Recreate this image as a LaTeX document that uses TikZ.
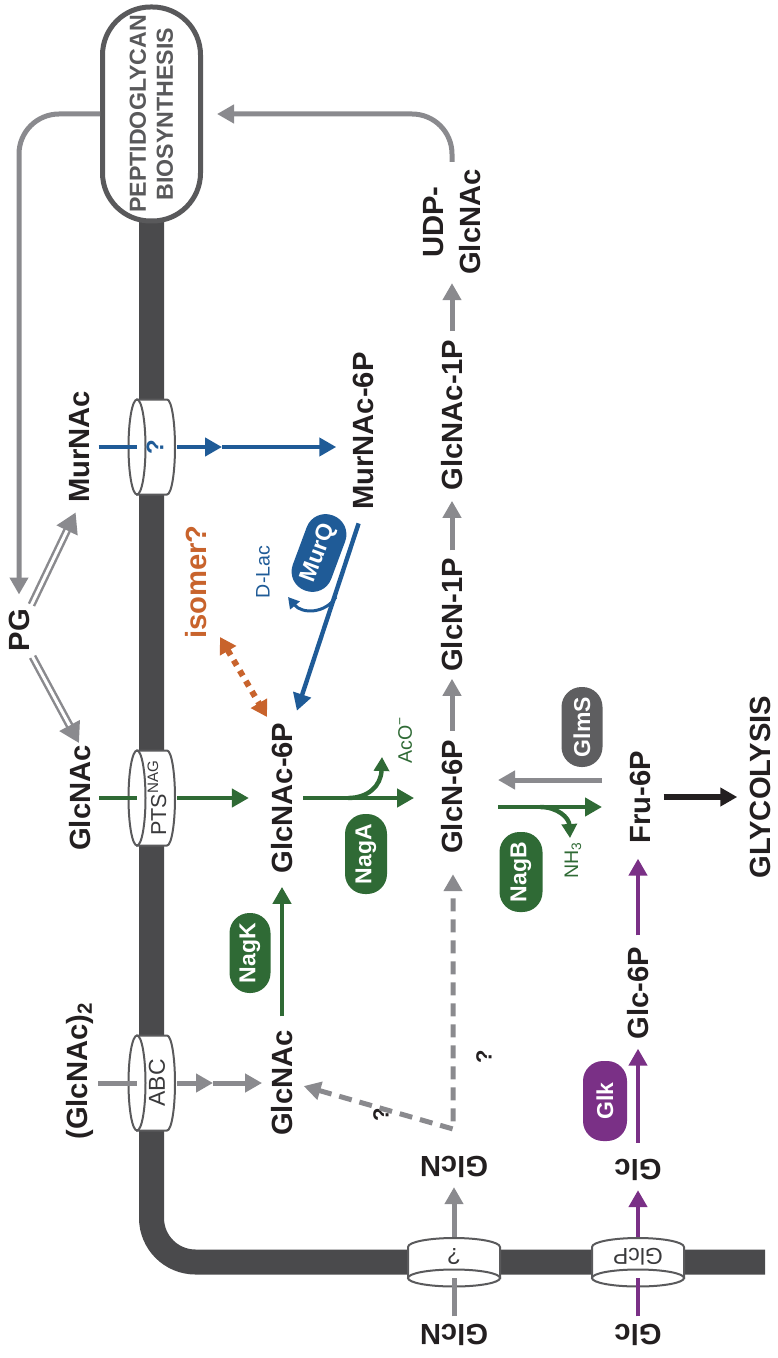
\documentclass[tikz,border=0pt]{standalone}
\usepackage{fontspec}
\setmainfont{Liberation Sans}
\usetikzlibrary{arrows.meta}
\definecolor{memb}{HTML}{4A4A4C}
\definecolor{pgray}{HTML}{59595B}
\definecolor{lgray}{HTML}{8A8A8E}
\definecolor{cylgray}{HTML}{5A5A5C}
\definecolor{tptext}{HTML}{3A3A3C}
\definecolor{mblue}{HTML}{1F5B97}
\definecolor{mgreen}{HTML}{2F6A35}
\definecolor{mpurple}{HTML}{7A3086}
\definecolor{morange}{HTML}{C8632C}
\definecolor{txt}{HTML}{231F20}
\definecolor{glmsc}{HTML}{5E5E60}
\newcommand\metfont{\fontsize{14.6}{18.5}\selectfont\bfseries}
\newcommand\enzfont{\fontsize{11.5}{13}\selectfont\bfseries}
\newcommand\smlfont{\fontsize{9.8}{11}\selectfont}
\newcommand\tpfont{\fontsize{11}{13}\selectfont}
\begin{document}
\begin{tikzpicture}[x=0.5pt,y=-0.5pt,line cap=butt,
  met/.style={text=txt,font=\metfont,inner sep=0pt},
  metv/.style={met,rotate=90},
  metu/.style={met,rotate=180},
  enzbox/.style={rounded corners=10pt,text=white,font=\enzfont,minimum width=40pt,minimum height=20.5pt,inner sep=0pt,rotate=90},
  tip/.style={-{Triangle[length=8.5pt,width=9pt]}},
  grayarrow/.style={lgray,line width=2.5pt,tip},
  bluearrow/.style={mblue,line width=2.2pt,tip},
  greenarrow/.style={mgreen,line width=2.4pt,tip},
  purplearrow/.style={mpurple,line width=2.4pt,tip},
  cylline/.style={draw=cylgray,line width=1pt,fill=white},
  hcyl/.pic={
    \path[cylline] (-15,-47.5) -- (15,-47.5) arc[start angle=-90,end angle=90,x radius=8,y radius=47.5] -- (-15,47.5) -- cycle;
    \path[cylline] (-15,0) ellipse[x radius=8.5,y radius=47.5];
  },
  vcyl/.pic={
    \path[cylline] (-46,16) -- (-46,-15) arc[start angle=180,end angle=360,x radius=46,y radius=9] -- (46,16) -- cycle;
    \path[cylline] (0,16) ellipse[x radius=46,y radius=8.5];
  },
  dblarrow/.style={lgray,line width=4pt,-{Triangle[length=10pt,width=11pt]}},
  dblinner/.style={white,line width=1.5pt}
]
\useasboundingbox (0,0) rectangle (777,1358);

% membrane
\coordinate (membtop) at (151.5,222);
\coordinate (membend) at (765,1262);
\draw[memb,line width=12.5pt,rounded corners=22pt] (membtop) |- (membend);

% peptidoglycan box
\node[draw=pgray,line width=2.5pt,fill=white,rounded corners=24pt,minimum width=107pt,minimum height=49pt,inner sep=0pt,rotate=90,align=center,text=pgray,font=\fontsize{11.6}{13.5}\selectfont\bfseries] (pgb) at (151.5,114) {PEPTIDOGLYCAN\\BIOSYNTHESIS};

% transporters
\coordinate (tq) at (152,447);
\coordinate (tpts) at (152,798);
\coordinate (tabc) at (152,1083);
\coordinate (tglcn) at (454,1262);
\coordinate (tglcp) at (638,1262);
\pic at (tq) {hcyl};
\pic at (tpts) {hcyl};
\pic at (tabc) {hcyl};
\pic at (tglcn) {vcyl};
\pic at (tglcp) {vcyl};
\node[rotate=90,text=mblue,font=\fontsize{12}{13}\selectfont\bfseries,inner sep=0pt] (tqlab) at (155,447) {?};
\node[rotate=90,text=tptext,font=\fontsize{10.8}{12}\selectfont,inner sep=0pt] (ptslab) at (157,798) {PTS\textsuperscript{NAG}};
\node[rotate=90,text=tptext,font=\fontsize{11.5}{13}\selectfont,inner sep=0pt] (abclab) at (157,1083) {ABC};
\node[rotate=180,text=tptext,font=\fontsize{11.5}{13}\selectfont,inner sep=0pt] (glcnqlab) at (454,1257) {?};
\node[rotate=180,text=tptext,font=\fontsize{11.5}{13}\selectfont,inner sep=0pt] (glcplab) at (638,1257) {GlcP};

% metabolites
\node[metv] (pg) at (19,630) {PG};
\node[metv] (murnac) at (80,447) {MurNAc};
\node[metv] (glcnacout) at (80,798) {GlcNAc};
\node[metv] (glcnac2) at (80,1071) {(GlcNAc)\textsubscript{2}};
\node[metv] (murnac6p) at (363,431) {MurNAc-6P};
\node[metv] (glcnac6p) at (282,798) {GlcNAc-6P};
\node[metv] (glcnacin) at (282,1083) {GlcNAc};
\node[metv] (glcn6p) at (452,797) {GlcN-6P};
\node[metv] (glcn1p) at (452,615) {GlcN-1P};
\node[metv] (glcnac1p) at (452,415) {GlcNAc-1P};
\node[metv,align=center] (udp) at (452,222) {UDP-\\GlcNAc};
\node[metv] (fru6p) at (640,797) {Fru-6P};
\node[metv] (glc6p) at (638,993) {Glc-6P};
\node[metv] (glyc) at (760,787) {GLYCOLYSIS};
\node[metu] (glcnin) at (454,1167) {GlcN};
\node[metu] (glcnout) at (454,1335) {GlcN};
\node[metu] (glcin) at (638,1170) {Glc};
\node[metu] (glcout) at (638,1335) {Glc};
\node[metv,text=morange] (isomer) at (196,582) {isomer?};
\node[rotate=90,text=mblue,font=\smlfont,inner sep=0pt] (dlac) at (263,572) {D-Lac};
\node[rotate=90,text=mgreen,font=\smlfont,inner sep=0pt] (aco) at (405,740) {AcO\textsuperscript{−}};
\node[rotate=90,text=mgreen,font=\smlfont,inner sep=0pt] (nh3) at (573,860) {NH\textsubscript{3}};
\node[rotate=90,text=txt,font=\fontsize{11}{13}\selectfont\bfseries,inner sep=0pt] (qa) at (484,1057) {?};
\node[rotate=90,text=txt,font=\fontsize{11}{13}\selectfont\bfseries,inner sep=0pt] (qb) at (381,1115) {?};

% enzymes
\node[enzbox,fill=mgreen] (nagk) at (250,953) {NagK};
\node[enzbox,fill=mgreen,minimum height=21pt] (naga) at (366,854) {NagA};
\node[enzbox,fill=mgreen,minimum height=21.5pt] (nagb) at (521,872) {NagB};
\node[enzbox,fill=glmsc] (glms) at (582,727) {GlmS};
\node[enzbox,fill=mpurple,minimum height=22pt] (glk) at (605,1101) {Glk};
\node[enzbox,fill=mblue,rotate=-20.4] (murq) at (319,553) {MurQ};

% peptidoglycan loop
\draw[grayarrow,rounded corners=20pt,shorten <=3.5pt,shorten >=7pt] (udp.east) |- (pgb.south);
\draw[grayarrow,rounded corners=20pt,shorten >=7pt] (pgb.north) -| (pg.east);

% PG double arrows
\draw[dblarrow,shorten <=2pt,shorten >=5pt] (pg.south east) -- (murnac.west);
\draw[dblinner,shorten <=1pt,shorten >=15pt] (pg.south east) -- (murnac.west);
\draw[dblarrow,shorten <=3pt,shorten >=1pt] (pg.south west) -- (glcnacout.east);
\draw[dblinner,shorten <=2pt,shorten >=11pt] (pg.south west) -- (glcnacout.east);

% transport: MurNAc
\coordinate (tqL) at (137,447);
\coordinate (tqR) at (177,447);
\coordinate (tqM) at (222,447);
\draw[mblue,line width=2.2pt,shorten <=4pt] (murnac.south) -- (tqL);
\draw[bluearrow] (tqR) -- (tqM);
\draw[bluearrow,shorten >=8pt] (tqM) -- (tqM -| murnac6p.north);

% transport: PTS
\coordinate (tptsL) at (137,798);
\coordinate (tptsR) at (177,798);
\draw[mgreen,line width=2.4pt,shorten <=4pt] (glcnacout.south) -- (tptsL);
\draw[greenarrow,shorten >=11pt] (tptsR) -- (tptsR -| glcnac6p.north);

% transport: ABC
\coordinate (abcstart) at (98,1083);
\coordinate (tabcL) at (137,1083);
\coordinate (tabcR) at (177,1083);
\coordinate (tabcM) at (213,1083);
\draw[lgray,line width=2.5pt] (abcstart) -- (tabcL);
\draw[grayarrow] (tabcR) -- (tabcM);
\draw[grayarrow,shorten >=4.4pt] (tabcM) -- (tabcM -| glcnacin.north);

% MurQ
\draw[bluearrow,shorten <=7pt,shorten >=6pt] (murnac6p.west) -- (glcnac6p.south east);
\coordinate (murqpt) at (336,597);
\coordinate (dlactip) at (288,597);
\draw[mblue,line width=1.5pt,-{Triangle[length=5.5pt,width=6pt]}] (murqpt) .. controls (325,614) and (302,614) .. (dlactip);

% isomer
\coordinate (isoA) at (220,637);
\coordinate (isoB) at (267,717);
\draw[morange,line width=3pt,dash pattern=on 3pt off 3pt,{Triangle[length=8pt,width=9pt]}-{Triangle[length=8pt,width=9pt]}] (isoA) -- (isoB);

% NagK
\draw[greenarrow,shorten <=6.75pt,shorten >=6.5pt] (glcnacin.east) -- (glcnac6p.west);

% NagA
\draw[greenarrow,shorten <=5pt,shorten >=13.4pt] (glcnac6p.south) -- (glcnac6p.south -| glcn6p.north);
\coordinate (nagabr) at (348,798);
\coordinate (acotip) at (382,757);
\draw[mgreen,line width=2.2pt,-{Triangle[length=7pt,width=7.5pt]}] (nagabr) .. controls (368,798) and (381,786) .. (acotip);

% GlcN-6P chain
\draw[grayarrow,shorten <=4.5pt,shorten >=3.3pt] (glcn6p.east) -- (glcn1p.west);
\draw[grayarrow,shorten <=3.7pt,shorten >=5pt] (glcn1p.east) -- (glcnac1p.west);
\draw[grayarrow,shorten <=4pt,shorten >=4pt] (glcnac1p.east) -- (udp.west);

% GlmS / NagB
\coordinate (glmsR) at (602,780);
\coordinate (glmsL) at (498,780);
\draw[grayarrow] (glmsR) -- (glmsL);
\coordinate (nagbL) at (498,807);
\coordinate (nagbR) at (602,807);
\draw[greenarrow] (nagbL) -- (nagbR);
\coordinate (nagbbr) at (540,807);
\coordinate (nh3tip) at (570,838);
\draw[mgreen,line width=2.2pt,-{Triangle[length=7pt,width=7.5pt]}] (nagbbr) .. controls (558,807) and (569,818) .. (nh3tip);

% glycolysis
\draw[txt,line width=2.8pt,tip,shorten <=6.5pt,shorten >=6pt] (fru6p.south) -- (fru6p.south -| glyc.north);

% glucose
\draw[purplearrow,shorten <=5.5pt,shorten >=7.5pt] (glc6p.east) -- (glc6p.east |- fru6p.west);
\draw[purplearrow,shorten <=8pt,shorten >=4.5pt] (glcin.south) -- (glc6p.west);
\coordinate (glcpB) at (638,1278);
\coordinate (glcpT) at (638,1237);
\draw[mpurple,line width=2.4pt,shorten <=3.7pt] (glcout.south) -- (glcpB);
\draw[purplearrow,shorten >=4.5pt] (glcpT) -- (glcin.north);

% glucosamine
\coordinate (glcnB) at (454,1278);
\coordinate (glcnT) at (454,1237);
\draw[lgray,line width=2.5pt,shorten <=3.7pt] (glcnout.south) -- (glcnB);
\draw[grayarrow,shorten >=4.5pt] (glcnT) -- (glcnin.north);

% dashed uncertain paths
\coordinate (dcorner) at (453,1129);
\draw[lgray,line width=2.5pt,dash pattern=on 6.5pt off 4pt,line join=miter,{Triangle[length=8.5pt,width=9pt]}-{Triangle[length=8.5pt,width=9pt]},shorten <=5.5pt,shorten >=10pt] (glcnacin.south) -- (dcorner) -- (dcorner |- glcn6p.west);
\end{tikzpicture}
\end{document}
